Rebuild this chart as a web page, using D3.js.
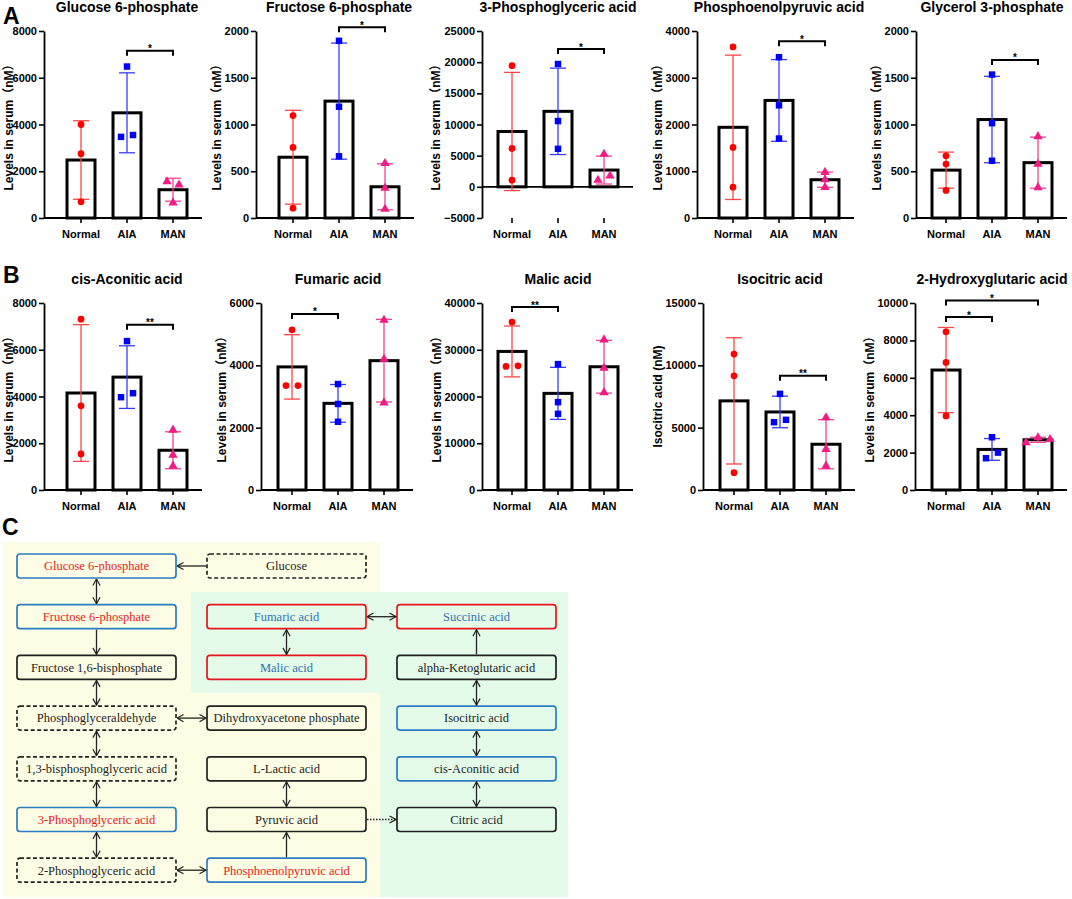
<!DOCTYPE html>
<html>
<head>
<meta charset="utf-8">
<script src="https://cdn.jsdelivr.net/npm/d3@7"></script>
<style>
  body { margin: 0; background: #fff; }
</style>
</head>
<body>
<div id="chart"></div>
<script>
// ---- data ----
var groups = ["Normal", "AIA", "MAN"];
var titles = ["Glucose 6-phosphate", "Fructose 6-phosphate", "3-Phosphoglyceric acid", "Phosphoenolpyruvic acid", "Glycerol 3-phosphate",
  "cis-Aconitic acid", "Fumaric acid", "Malic acid", "Isocitric acid", "2-Hydroxyglutaric acid"];
var yTitles = ["Levels in serum（nM）", "Levels in serum（nM）", "Levels in serum（nM）", "Levels in serum（nM）", "Levels in serum（nM）",
  "Levels in serum（nM）", "Levels in serum（nM）", "Levels in serum（nM）", "Isocitric acid (nM)", "Levels in serum（nM）"];
var yDomains = [[0, 8000], [0, 2000], [-5000, 25000], [0, 4000], [0, 2000],
  [0, 8000], [0, 6000], [0, 40000], [0, 15000], [0, 10000]];
var yTicks = [
  [0, 2000, 4000, 6000, 8000],
  [0, 500, 1000, 1500, 2000],
  [-5000, 0, 5000, 10000, 15000, 20000, 25000],
  [0, 1000, 2000, 3000, 4000],
  [0, 500, 1000, 1500, 2000],
  [0, 2000, 4000, 6000, 8000],
  [0, 2000, 4000, 6000],
  [0, 10000, 20000, 30000, 40000],
  [0, 5000, 10000, 15000],
  [0, 2000, 4000, 6000, 8000, 10000]
];
var means = [
  [2480, 4500, 1210],
  [650, 1250, 334],
  [8880, 12110, 2690],
  [1940, 2515, 819],
  [512, 1053, 592],
  [4150, 4830, 1700],
  [3950, 2780, 4150],
  [29640, 20670, 26360],
  [7150, 6260, 3670],
  [6415, 2170, 2685]
];
var sds = [
  [1680, 1710, 490],
  [502, 621, 246],
  [9480, 6930, 2240],
  [1544, 874, 163],
  [193, 462, 273],
  [2925, 1340, 790],
  [1033, 605, 1326],
  [5440, 5565, 5645],
  [5063, 1264, 1973],
  [2277, 582, 136]
];
var points = [
  [[4000, 2750, 690], [6480, 3470, 3550], [1560, 1420, 650]],
  [[1095, 755, 105], [1895, 1190, 660], [585, 320, 95]],
  [[19430, 6160, 1070], [19700, 10550, 6100], [5250, 1070, 1770]],
  [[3660, 1510, 660], [3440, 2410, 1700], [980, 820, 655]],
  [[665, 577, 295], [1534, 1014, 612], [872, 577, 327]],
  [[7310, 3600, 1540], [6370, 3970, 4140], [2570, 1500, 1030]],
  [[5140, 3350, 3350], [3400, 2760, 2190], [5450, 4200, 2800]],
  [[35930, 26430, 26570], [26930, 18790, 16290], [32140, 26070, 20860]],
  [[10900, 9160, 1390], [7710, 5440, 5630], [5810, 3270, 1930]],
  [[8460, 6820, 3960], [2820, 1700, 2000], [2800, 2540, 2710]]
];
var sigTests = [
  [["AIA", "MAN", "*"]],
  [["AIA", "MAN", "*"]],
  [["AIA", "MAN", "*"]],
  [["AIA", "MAN", "*"]],
  [["AIA", "MAN", "*"]],
  [["AIA", "MAN", "**"]],
  [["Normal", "AIA", "*"]],
  [["Normal", "AIA", "**"]],
  [["AIA", "MAN", "**"]],
  [["Normal", "AIA", "*"], ["Normal", "MAN", "*"]]
];

// pathway (panel C)
var glycolysisCol = ["Glucose 6-phosphate", "Fructose 6-phosphate", "Fructose 1,6-bisphosphate", "Phosphoglyceraldehyde",
  "1,3-bisphosphoglyceric acid", "3-Phosphoglyceric acid", "2-Phosphoglyceric acid"];
var middleCol = ["Glucose", "Fumaric acid", "Malic acid", "Dihydroxyacetone phosphate", "L-Lactic acid", "Pyruvic acid", "Phosphoenolpyruvic acid"];
var tcaCol = [null, "Succinic acid", "alpha-Ketoglutaric acid", "Isocitric acid", "cis-Aconitic acid", "Citric acid"];
var upGlycolysis = ["Glucose 6-phosphate", "Fructose 6-phosphate", "3-Phosphoglyceric acid", "Phosphoenolpyruvic acid"];
var changedTca = ["Fumaric acid", "Malic acid", "Succinic acid"];
var measuredTca = ["Isocitric acid", "cis-Aconitic acid"];
var notDetected = ["Glucose", "Phosphoglyceraldehyde", "1,3-bisphosphoglyceric acid", "2-Phosphoglyceric acid"];
var reactions = [
  ["Glucose", "Glucose 6-phosphate", "one"],
  ["Glucose 6-phosphate", "Fructose 6-phosphate", "two"],
  ["Fructose 6-phosphate", "Fructose 1,6-bisphosphate", "one"],
  ["Fructose 1,6-bisphosphate", "Phosphoglyceraldehyde", "two"],
  ["Phosphoglyceraldehyde", "Dihydroxyacetone phosphate", "two"],
  ["Phosphoglyceraldehyde", "1,3-bisphosphoglyceric acid", "two"],
  ["1,3-bisphosphoglyceric acid", "3-Phosphoglyceric acid", "two"],
  ["3-Phosphoglyceric acid", "2-Phosphoglyceric acid", "two"],
  ["2-Phosphoglyceric acid", "Phosphoenolpyruvic acid", "two"],
  ["Phosphoenolpyruvic acid", "Pyruvic acid", "one"],
  ["Pyruvic acid", "L-Lactic acid", "two"],
  ["Pyruvic acid", "Citric acid", "dotted"],
  ["Fumaric acid", "Malic acid", "two"],
  ["Fumaric acid", "Succinic acid", "two"],
  ["alpha-Ketoglutaric acid", "Succinic acid", "one"],
  ["alpha-Ketoglutaric acid", "Isocitric acid", "two"],
  ["Isocitric acid", "cis-Aconitic acid", "two"],
  ["cis-Aconitic acid", "Citric acid", "two"]
];

// ---- layout ----
var svgWidth = 1072;
var svgHeight = 899;
var rowTop = [31, 303];
var rowBottom = [218, 490];
var titleY = [12, 284];
var axisXs = [44, 256, 482, 697, 916, 44, 261, 482, 703, 915];
var firstCat = [37, 37, 30, 36, 30, 37, 31, 30, 31, 31];
var catStep = 46;
var bracketLevels = [[7150], [2040], [22100], [3780], [1690], [7070], [5650], [39140], [9160], [9250, 10140]];
var spread = [
  [[0, 0, 0], [0, -1, 1], [-1, 1, 0]],
  [[0, 0, 0], [0, 0, 0], [0, 0, 0]],
  [[0, 0, 0], [0, 0, 0], [0, -1, 1]],
  [[0, 0, 0], [0, 0, 0], [0, 0, 0]],
  [[0, 0, 0], [0, 0, 0], [0, 0, 0]],
  [[0, 0, 0], [0, -1, 1], [0, 0, 0]],
  [[0, -1, 1], [0, 0, 0], [0, 0, 0]],
  [[0, -1, 1], [0, 0, 0], [0, 0, 0]],
  [[0, 0, 0], [0, -1, 1], [0, 0, 0]],
  [[0, 0, 0], [0, -1, 1], [0, -2, 2]]
];
var dotColors = { Normal: "#ff0000", AIA: "#0000ff", MAN: "#ee1c84" };
var errColors = { Normal: "#ff4545", AIA: "#3a3aff", MAN: "#f0448f" };
var symbols = { Normal: d3.symbolCircle, AIA: d3.symbolSquare, MAN: d3.symbolTriangle };
var sans = "'Liberation Sans', Arial, 'Noto Sans CJK SC', sans-serif";

var svg = d3.select("#chart")
  .append("svg")
  .attr("width", svgWidth)
  .attr("height", svgHeight)
  .style("font-family", sans);

// panel letters
svg.append("text").attr("x", 3).attr("y", 24).text("A");
svg.append("text").attr("x", 3).attr("y", 283).text("B");
svg.append("text").attr("x", 2).attr("y", 535).text("C");
svg.selectAll("text").attr("font-size", 23).attr("font-weight", "bold");

function drawChart(i) {
  var r = i < 5 ? 0 : 1;
  var x0 = axisXs[i];
  var xScale = d3.scalePoint()
    .domain(groups)
    .range([x0 + firstCat[i], x0 + firstCat[i] + 2 * catStep]);
  var yScale = d3.scaleLinear()
    .domain(yDomains[i])
    .range([rowBottom[r], rowTop[r]]);
  var xEnd = xScale("MAN") + 29;
  var bottom = yScale(yDomains[i][0]);
  var g = svg.append("g");

  // y axis
  var leftAxis = d3.axisLeft(yScale)
    .tickValues(yTicks[i])
    .tickSize(5)
    .tickSizeOuter(0)
    .tickPadding(2)
    .tickFormat(d3.format("d"));
  var yAxisG = g.append("g")
    .attr("transform", `translate(${x0}, 0)`)
    .call(leftAxis);
  yAxisG.select(".domain").attr("stroke-width", 1.8);
  yAxisG.selectAll(".tick line").attr("stroke-width", 1.6);
  yAxisG.selectAll(".tick text")
    .attr("font-size", 11)
    .attr("font-weight", "bold")
    .attr("font-family", sans)
    .attr("fill", "#000");

  // x axis line at zero
  g.append("line")
    .attr("x1", x0).attr("x2", xEnd)
    .attr("y1", yScale(0)).attr("y2", yScale(0))
    .attr("stroke", "#000").attr("stroke-width", 1.8);

  // category ticks and labels
  groups.forEach(function(grp) {
    g.append("line")
      .attr("x1", xScale(grp)).attr("x2", xScale(grp))
      .attr("y1", bottom).attr("y2", bottom + 5)
      .attr("stroke", "#000").attr("stroke-width", 1.6);
    g.append("text")
      .attr("x", xScale(grp))
      .attr("y", bottom + 19.5)
      .attr("text-anchor", "middle")
      .attr("font-size", 11)
      .attr("font-weight", "bold")
      .text(grp);
  });

  // title
  g.append("text")
    .attr("x", xScale("AIA"))
    .attr("y", titleY[r])
    .attr("text-anchor", "middle")
    .attr("font-size", 14)
    .attr("font-weight", "bold")
    .text(titles[i]);

  // y label
  var bb = yAxisG.node().getBBox();
  var labelX = Math.max(x0 + bb.x - 8, 9);
  g.append("text")
    .attr("transform", `translate(${labelX}, ${(rowTop[r] + rowBottom[r]) / 2}) rotate(-90)`)
    .attr("dy", "0.35em")
    .attr("text-anchor", "middle")
    .attr("font-size", 12)
    .attr("font-weight", "bold")
    .text(yTitles[i]);

  // bars
  g.selectAll("rect.bar")
    .data(groups)
    .enter()
    .append("rect")
    .attr("class", "bar")
    .attr("x", d => xScale(d) - 14)
    .attr("width", 28)
    .attr("y", (d, k) => yScale(means[i][k]))
    .attr("height", (d, k) => yScale(0) - yScale(means[i][k]))
    .attr("fill", "#fff")
    .attr("stroke", "#000")
    .attr("stroke-width", 3);

  // error bars (mean ± SD)
  groups.forEach(function(grp, k) {
    var cx = xScale(grp);
    var lo = yScale(means[i][k] - sds[i][k]);
    var hi = yScale(means[i][k] + sds[i][k]);
    var eg = g.append("g")
      .attr("stroke", errColors[grp])
      .attr("stroke-width", 1.3);
    eg.append("line").attr("x1", cx).attr("x2", cx).attr("y1", lo).attr("y2", hi);
    eg.append("line").attr("x1", cx - 8).attr("x2", cx + 8).attr("y1", lo).attr("y2", lo);
    eg.append("line").attr("x1", cx - 8).attr("x2", cx + 8).attr("y1", hi).attr("y2", hi);
  });

  // individual points
  groups.forEach(function(grp, k) {
    var size = grp === "Normal" ? 36 : grp === "AIA" ? 42 : 38;
    g.selectAll("path.pt" + k)
      .data(points[i][k])
      .enter()
      .append("path")
      .attr("class", "pt" + k)
      .attr("d", d3.symbol().type(symbols[grp]).size(size))
      .attr("transform", (d, j) => `translate(${xScale(grp) + spread[i][k][j] * 6}, ${yScale(d)})`)
      .attr("fill", dotColors[grp]);
  });

  // significance brackets
  sigTests[i].forEach(function(t, k) {
    var yb = yScale(bracketLevels[i][k]);
    var xa = xScale(t[0]);
    var xb = xScale(t[1]);
    g.append("path")
      .attr("d", `M${xa},${yb + 5}V${yb}H${xb}V${yb + 5}`)
      .attr("fill", "none")
      .attr("stroke", "#000")
      .attr("stroke-width", 2);
    g.append("text")
      .attr("x", (xa + xb) / 2)
      .attr("y", yb + 1.5)
      .attr("text-anchor", "middle")
      .attr("font-size", 10)
      .attr("font-weight", "bold")
      .text(t[2]);
  });
}

for (var i = 0; i < titles.length; i++) {
  drawChart(i);
}

// ---- panel C: pathway diagram ----
var colX = d3.scaleLinear().domain([0, 1]).range([17, 207]);
var rowY = d3.scaleLinear().domain([0, 1]).range([554, 604.7]);
var boxW = 159;
var boxH = 24;

var diagram = svg.append("g");
diagram.append("rect")
  .attr("x", 3).attr("y", 542).attr("width", 377).attr("height", 355)
  .attr("fill", "#fdfde6");
diagram.append("path")
  .attr("d", "M191,592H568V897H380V693H191Z")
  .attr("fill", "#e4fbea");

var nodes = {};
[glycolysisCol, middleCol, tcaCol].forEach(function(col, c) {
  col.forEach(function(name, rIdx) {
    if (name) nodes[name] = { name: name, col: c, row: rIdx };
  });
});

function kindOf(name) {
  if (upGlycolysis.includes(name)) return "up";
  if (changedTca.includes(name)) return "tca";
  if (measuredTca.includes(name)) return "measured";
  if (notDetected.includes(name)) return "nd";
  return "plain";
}
var borderColor = { up: "#2b7cc0", tca: "#e5141c", measured: "#2b7cc0", nd: "#222", plain: "#222" };
var labelColor = { up: "#ea1a20", tca: "#2f72b3", measured: "#222", nd: "#222", plain: "#222" };

var defs = svg.append("defs");
defs.append("marker")
  .attr("id", "chev")
  .attr("viewBox", "-1 -5 8 10")
  .attr("refX", 6.5).attr("refY", 0)
  .attr("markerUnits", "userSpaceOnUse")
  .attr("markerWidth", 8).attr("markerHeight", 10)
  .attr("orient", "auto-start-reverse")
  .append("path")
  .attr("d", "M0,-3.6L6.5,0L0,3.6")
  .attr("fill", "none")
  .attr("stroke", "#222")
  .attr("stroke-width", 1.2);

Object.values(nodes).forEach(function(n) {
  var k = kindOf(n.name);
  diagram.append("rect")
    .attr("x", colX(n.col)).attr("y", rowY(n.row))
    .attr("width", boxW).attr("height", boxH)
    .attr("rx", 3)
    .attr("fill", "none")
    .attr("stroke", borderColor[k])
    .attr("stroke-width", 1.7)
    .attr("stroke-dasharray", k === "nd" ? "4,2.5" : null);
  diagram.append("text")
    .attr("x", colX(n.col) + boxW / 2)
    .attr("y", rowY(n.row) + boxH / 2)
    .attr("dy", "0.35em")
    .attr("text-anchor", "middle")
    .attr("font-family", "'Liberation Serif', 'Times New Roman', serif")
    .attr("font-size", 12.5)
    .attr("fill", labelColor[k])
    .text(n.name);
});

reactions.forEach(function(rx) {
  var a = nodes[rx[0]], b = nodes[rx[1]];
  var x1, y1, x2, y2;
  if (a.col === b.col) {
    x1 = x2 = colX(a.col) + boxW / 2;
    if (a.row < b.row) { y1 = rowY(a.row) + boxH + 1; y2 = rowY(b.row) - 1; }
    else { y1 = rowY(a.row) - 1; y2 = rowY(b.row) + boxH + 1; }
  } else {
    y1 = y2 = rowY(a.row) + boxH / 2;
    if (a.col < b.col) { x1 = colX(a.col) + boxW + 1; x2 = colX(b.col) - 1; }
    else { x1 = colX(a.col) - 1; x2 = colX(b.col) + boxW + 1; }
  }
  diagram.append("line")
    .attr("x1", x1).attr("y1", y1).attr("x2", x2).attr("y2", y2)
    .attr("stroke", "#222")
    .attr("stroke-width", 1.3)
    .attr("stroke-dasharray", rx[2] === "dotted" ? "1.5,1.5" : null)
    .attr("marker-end", "url(#chev)")
    .attr("marker-start", rx[2] === "two" ? "url(#chev)" : null);
});
</script>
</body>
</html>
